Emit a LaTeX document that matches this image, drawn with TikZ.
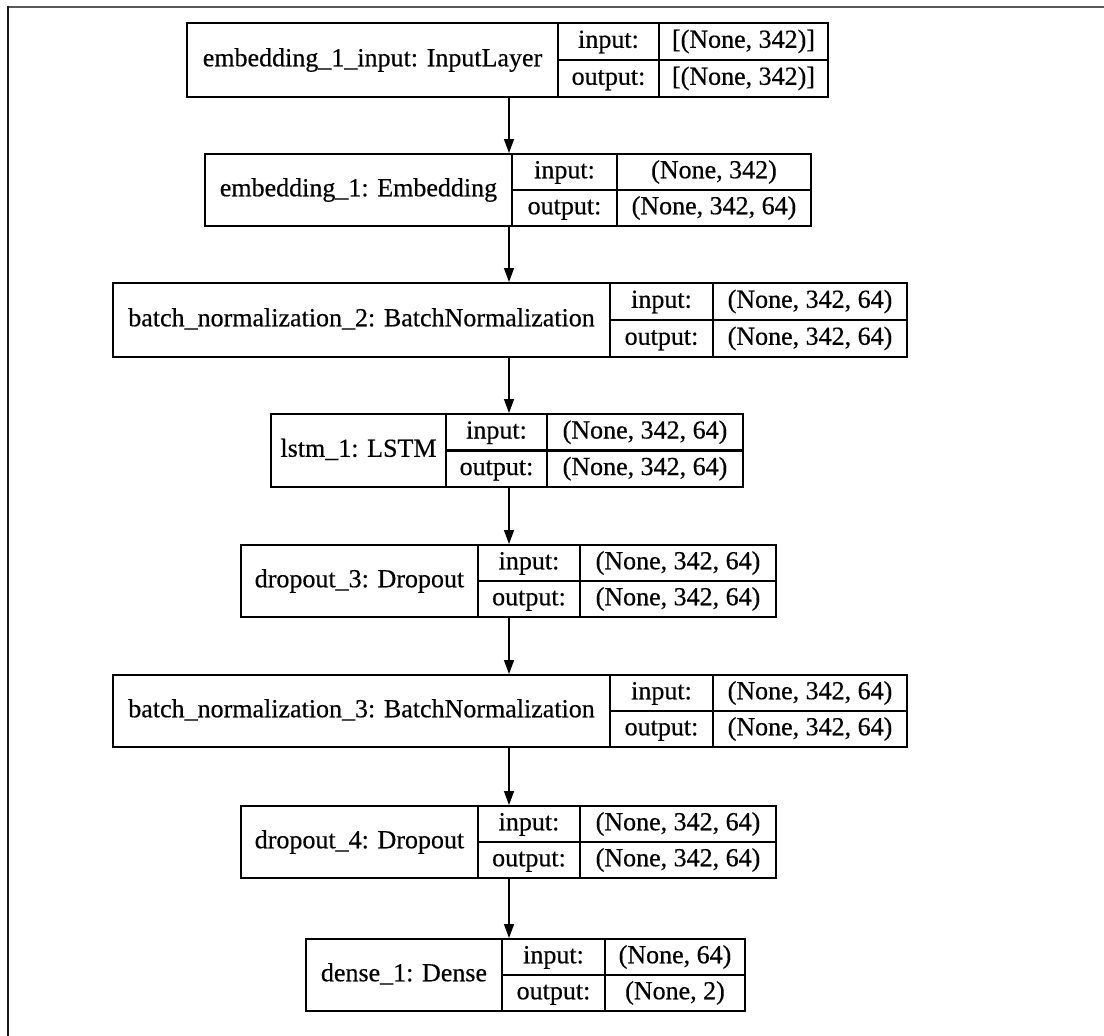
\documentclass[tikz,border=0pt]{standalone}
\usepackage{fontspec}
\newfontfamily\gvfont{Liberation Serif}[FakeBold=0.45]
\usetikzlibrary{fit,arrows.meta}
\tikzset{
  layerframe/.style={draw=black, line width=2pt, inner sep=0pt},
  cellline/.style={draw=black, line width=1.5pt},
  midline/.style={draw=black, line width=2.2pt},
  txt/.style={font=\gvfont\fontsize{26}{30}\selectfont, inner sep=0pt, text height=18pt, text depth=5.5pt, anchor=center},
  arr/.style={draw=black, line width=1.5pt, -{Triangle[length=14pt,width=10pt]}},
  frameline/.style={line width=2pt},
}
% name, x0, x1, x2, x3, y0, y1, label
\newcommand\layerbox[8]{%
  \node[layerframe, fit={(#2,#6) (#5,#7)}] (#1) {};
  \draw[cellline] (#3,#6) -- (#3,#7) (#4,#6) -- (#4,#7);
  \draw[midline] (#3,{(#6+#7)/2}) -- (#5,{(#6+#7)/2});
  \node[txt] (#1-l) at ({(#2+#3)/2},{(#6+#7)/2}) {#8};
  \node[txt] (#1-i) at ({(#3+#4)/2},{(3*#6+#7)/4}) {input:};
  \node[txt] (#1-o) at ({(#3+#4)/2},{(#6+3*#7)/4}) {output:};
  \coordinate (#1-iv) at ({(#4+#5)/2},{(3*#6+#7)/4});
  \coordinate (#1-ov) at ({(#4+#5)/2},{(#6+3*#7)/4});
}
\newcommand\layervals[3]{%
  \node[txt] (#1-ivt) at (#1-iv) {#2};
  \node[txt] (#1-ovt) at (#1-ov) {#3};
}
\begin{document}
\begin{tikzpicture}[x=1pt,y=-1pt]
\useasboundingbox (0,0) rectangle (1104,1036);
\fill[white] (0,0) rectangle (1104,1036);
% outer frame (left and top only)
\draw[frameline, black!65] (8,7) -- (1104,7);
\draw[frameline, black!90] (8,1036) -- (8,6);

\layerbox{b1}{187}{558}{659}{828}{23}{97}{embedding\_1\_input: InputLayer}
\layervals{b1}{[(None, 342)]}{[(None, 342)]}

\layerbox{b2}{205}{512}{617}{811}{154}{226}{embedding\_1: Embedding}
\layervals{b2}{(None, 342)}{(None, 342, 64)}

\layerbox{b3}{113}{610}{713}{907}{283}{357}{batch\_normalization\_2: BatchNormalization}
\layervals{b3}{(None, 342, 64)}{(None, 342, 64)}

\layerbox{b4}{271}{446}{547}{743}{414}{487}{lstm\_1: LSTM}
\layervals{b4}{(None, 342, 64)}{(None, 342, 64)}

\layerbox{b5}{241}{478}{580}{776}{545}{617}{dropout\_3: Dropout}
\layervals{b5}{(None, 342, 64)}{(None, 342, 64)}

\layerbox{b6}{113}{610}{713}{907}{675}{747}{batch\_normalization\_3: BatchNormalization}
\layervals{b6}{(None, 342, 64)}{(None, 342, 64)}

\layerbox{b7}{241}{478}{580}{776}{806}{878}{dropout\_4: Dropout}
\layervals{b7}{(None, 342, 64)}{(None, 342, 64)}

\layerbox{b8}{306}{502}{605}{745}{939}{1011}{dense\_1: Dense}
\layervals{b8}{(None, 64)}{(None, 2)}

\coordinate (ax) at (509,0);
\draw[arr] (b1.south -| ax) -- (b2.north -| ax);
\draw[arr] (b2.south -| ax) -- (b3.north -| ax);
\draw[arr] (b3.south -| ax) -- (b4.north -| ax);
\draw[arr] (b4.south -| ax) -- (b5.north -| ax);
\draw[arr] (b5.south -| ax) -- (b6.north -| ax);
\draw[arr] (b6.south -| ax) -- (b7.north -| ax);
\draw[arr] (b7.south -| ax) -- (b8.north -| ax);
\end{tikzpicture}
\end{document}
